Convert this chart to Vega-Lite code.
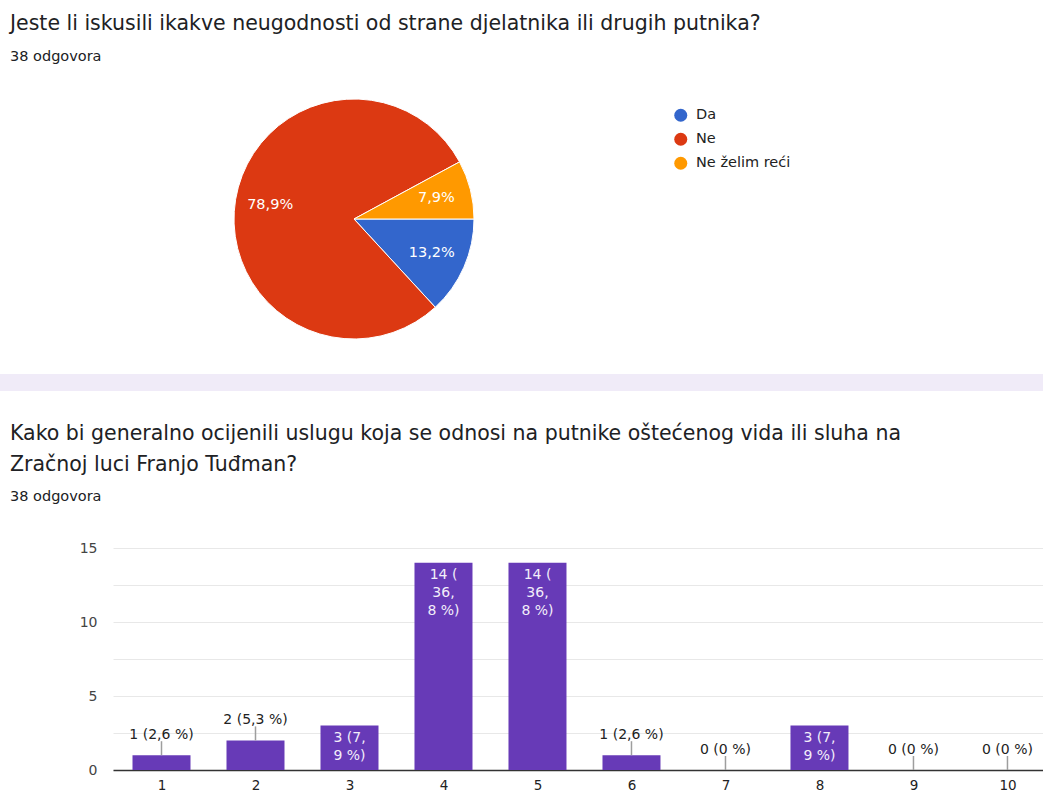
{
  "$schema": "https://vega.github.io/schema/vega-lite/v6.json",
  "padding": {"left": 0, "top": 14, "right": 0, "bottom": 0},
  "background": "white",
  "spacing": 33,
  "config": {"font": "DejaVu Sans", "view": {"stroke": null}},
  "vconcat": [
    {
      "width": 482,
      "height": 242,
      "title": {
        "text": "Jeste li iskusili ikakve neugodnosti od strane djelatnika ili drugih putnika?",
        "subtitle": "38 odgovora",
        "anchor": "start",
        "frame": "group",
        "dx": -103,
        "fontSize": 20.5,
        "fontWeight": "normal",
        "color": "#202124",
        "subtitleFontSize": 14.5,
        "subtitleColor": "#202124",
        "subtitlePadding": 15,
        "offset": 34
      },
      "data": {"values": [
        {"odgovor": "Da", "broj": 5, "postotak": "13,2%"},
        {"odgovor": "Ne", "broj": 30, "postotak": "78,9%"},
        {"odgovor": "Ne želim reći", "broj": 3, "postotak": "7,9%"}
      ]},
      "layer": [
        {
          "mark": {"type": "arc", "outerRadius": 120, "stroke": "white", "strokeWidth": 1},
          "encoding": {
            "theta": {"field": "broj", "type": "quantitative", "stack": true, "scale": {"range": [1.5708, 7.854]}},
            "order": {"field": "odgovor", "type": "ordinal", "sort": "ascending"},
            "color": {
              "field": "odgovor",
              "type": "nominal",
              "scale": {"domain": ["Da", "Ne", "Ne želim reći"], "range": ["#3366cc", "#dc3912", "#ff9900"]},
              "legend": {
                "title": null,
                "orient": "none",
                "legendX": 560.5,
                "legendY": 10,
                "symbolType": "circle",
                "symbolSize": 169,
                "symbolStrokeWidth": 0,
                "symbolOpacity": 1,
                "labelFontSize": 14.5,
                "labelColor": "#222222",
                "labelOffset": 8,
                "rowPadding": 9
              }
            }
          }
        },
        {
          "mark": {"type": "text", "radius": 85, "fill": "white", "fontSize": 14.5},
          "encoding": {
            "theta": {"field": "broj", "type": "quantitative", "stack": true},
            "order": {"field": "odgovor", "type": "ordinal", "sort": "ascending"},
            "text": {"field": "postotak", "type": "nominal"}
          }
        }
      ]
    },
    {
      "width": 930,
      "height": 17,
      "data": {"values": [{"od": 0, "do": 1}]},
      "mark": {"type": "rect", "color": "#f0ebf8"},
      "encoding": {
        "x": {"field": "od", "type": "quantitative", "scale": {"domain": [0, 1], "range": [-113, 930]}, "axis": null},
        "x2": {"field": "do"}
      }
    },
    {
      "width": 930,
      "height": 222,
      "title": {
        "text": ["Kako bi generalno ocijenili uslugu koja se odnosi na putnike oštećenog vida ili sluha na", "Zračnoj luci Franjo Tuđman?"],
        "subtitle": "38 odgovora",
        "anchor": "start",
        "frame": "group",
        "dx": -103,
        "lineHeight": 31,
        "fontSize": 20.5,
        "fontWeight": "normal",
        "color": "#202124",
        "subtitleFontSize": 14.5,
        "subtitleColor": "#202124",
        "subtitlePadding": 14,
        "offset": 38
      },
      "data": {"values": [
        {"ocjena": 1, "broj": 1, "oznaka": "1 (2,6 %)"},
        {"ocjena": 2, "broj": 2, "oznaka": "2 (5,3 %)"},
        {"ocjena": 3, "broj": 3, "oznaka": "3 (7,\n9 %)"},
        {"ocjena": 4, "broj": 14, "oznaka": "14 (\n36,\n8 %)"},
        {"ocjena": 5, "broj": 14, "oznaka": "14 (\n36,\n8 %)"},
        {"ocjena": 6, "broj": 1, "oznaka": "1 (2,6 %)"},
        {"ocjena": 7, "broj": 0, "oznaka": "0 (0 %)"},
        {"ocjena": 8, "broj": 3, "oznaka": "3 (7,\n9 %)"},
        {"ocjena": 9, "broj": 0, "oznaka": "0 (0 %)"},
        {"ocjena": 10, "broj": 0, "oznaka": "0 (0 %)"}
      ]},
      "encoding": {
        "x": {
          "field": "ocjena",
          "type": "quantitative",
          "scale": {"domain": [0.484, 10.378], "nice": false, "zero": false, "padding": 0},
          "axis": {
            "values": [1, 2, 3, 4, 5, 6, 7, 8, 9, 10],
            "ticks": false,
            "grid": false,
            "domainColor": "#333333",
            "domainWidth": 1.5,
            "labelFontSize": 13.5,
            "labelColor": "#222222",
            "labelPadding": 8,
            "labelFlush": false,
            "title": null
          }
        },
        "y": {
          "field": "broj",
          "type": "quantitative",
          "scale": {"domain": [0, 15], "nice": false},
          "axis": {
            "values": [0, 2.5, 5, 7.5, 10, 12.5, 15],
            "labelExpr": "datum.value % 5 === 0 ? datum.label : ''",
            "domain": false,
            "ticks": false,
            "gridColor": "#e8e8e8",
            "labelPadding": 16,
            "labelColor": "#444444",
            "labelFontSize": 14,
            "title": null,
            "minExtent": 113,
            "maxExtent": 113
          }
        }
      },
      "layer": [
        {"mark": {"type": "bar", "width": 58, "color": "#673ab7"}},
        {
          "transform": [{"filter": "datum.broj < 3"}],
          "mark": {"type": "rule", "color": "#9e9e9e", "strokeWidth": 1.5, "y2Offset": -14},
          "encoding": {"y2": {"field": "broj"}}
        },
        {
          "transform": [{"filter": "datum.broj < 3"}],
          "mark": {"type": "text", "baseline": "alphabetic", "dy": -16, "fontSize": 14, "color": "#222222"},
          "encoding": {"text": {"field": "oznaka", "type": "nominal"}}
        },
        {
          "transform": [{"filter": "datum.broj >= 3"}],
          "mark": {"type": "text", "baseline": "top", "dy": 5, "fontSize": 14, "color": "#f3eefa", "lineBreak": "\n", "lineHeight": 18},
          "encoding": {"text": {"field": "oznaka", "type": "nominal"}}
        }
      ]
    }
  ]
}
